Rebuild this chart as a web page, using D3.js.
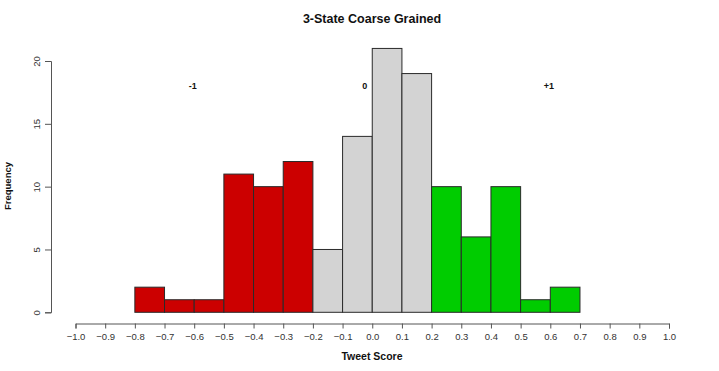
<!DOCTYPE html>
<html>
<head>
  <meta charset="utf-8">
  <title>3-State Coarse Grained</title>
  <script src="https://cdn.jsdelivr.net/npm/d3@7"></script>
  <style>
    body { margin: 0; background: #fff; }
    svg text { font-family: "Liberation Sans", Arial, sans-serif; }
  </style>
</head>
<body>
  <svg id="chart" width="719" height="371"></svg>

  <script>
    // histogram bins (lower edges), counts and category per bin
    var binStarts = [-0.8, -0.7, -0.6, -0.5, -0.4, -0.3, -0.2, -0.1, 0.0, 0.1, 0.2, 0.3, 0.4, 0.5, 0.6];
    var counts = [2, 1, 1, 11, 10, 12, 5, 14, 21, 19, 10, 6, 10, 1, 2];
    var classes = ['-1', '-1', '-1', '-1', '-1', '-1', '0', '0', '0', '0', '+1', '+1', '+1', '+1', '+1'];
    var binWidth = 0.1;

    var classNames = ['-1', '0', '+1'];
    var classColors = ['#cc0000', '#d3d3d3', '#00cc00'];
    var labelX = [-0.605, -0.025, 0.595];   // where the class labels sit on the score axis
    var labelY = 18;

    var xTicks = d3.range(-10, 11).map(d => d / 10);
    var yTicks = [0, 5, 10, 15, 20];

    var svg = d3.select('#chart');

    var x = d3.scaleLinear().domain([-1, 1]).range([75.5, 669]);
    var y = d3.scaleLinear().domain([0, 20]).range([312.3, 61]);
    var color = d3.scaleOrdinal().domain(classNames).range(classColors);

    var data = binStarts.map((b, i) => ({ x0: b, x1: b + binWidth, n: counts[i], c: classes[i] }));

    // bars
    svg.append('g')
      .selectAll('rect')
      .data(data)
      .join('rect')
      .attr('x', d => x(d.x0))
      .attr('width', d => x(d.x1) - x(d.x0))
      .attr('y', d => y(d.n))
      .attr('height', d => y(0) - y(d.n))
      .attr('fill', d => color(d.c))
      .attr('stroke', '#2a2a2a')
      .attr('stroke-width', 1);

    // x axis (R style, detached below the plot)
    var xAxis = svg.append('g')
      .attr('transform', 'translate(0,323.5)')
      .call(d3.axisBottom(x).tickValues(xTicks).tickFormat(d3.format('.1f')).tickSizeOuter(0).tickSize(5).tickPadding(5));
    xAxis.select('.domain').attr('stroke', '#555');
    xAxis.selectAll('.tick line').attr('stroke', '#555');
    xAxis.selectAll('.tick text').attr('fill', '#333').attr('font-size', 9.5);

    // y axis
    var yAxis = svg.append('g')
      .attr('transform', 'translate(51,0)')
      .call(d3.axisLeft(y).tickValues(yTicks).tickSizeOuter(0).tickSize(6).tickPadding(0));
    yAxis.select('.domain').attr('stroke', '#555');
    yAxis.selectAll('.tick line').attr('stroke', '#555');
    yAxis.selectAll('.tick text')
      .attr('fill', '#333')
      .attr('font-size', 9.5)
      .attr('text-anchor', 'middle')
      .attr('x', 0)
      .attr('dy', 0)
      .attr('transform', 'translate(-15,0) rotate(-90)')
      .attr('dominant-baseline', 'central');

    // class labels
    svg.append('g')
      .selectAll('text')
      .data(classNames)
      .join('text')
      .attr('x', (d, i) => x(labelX[i]))
      .attr('y', y(labelY))
      .attr('dy', '0.35em')
      .attr('text-anchor', 'middle')
      .attr('font-size', 9)
      .attr('font-weight', 'bold')
      .attr('fill', '#111')
      .text(d => d);

    // titles
    svg.append('text')
      .attr('x', 372)
      .attr('y', 23)
      .attr('text-anchor', 'middle')
      .attr('font-size', 12.5)
      .attr('font-weight', 'bold')
      .attr('fill', '#111')
      .text('3-State Coarse Grained');

    svg.append('text')
      .attr('x', 372)
      .attr('y', 360)
      .attr('text-anchor', 'middle')
      .attr('font-size', 10.5)
      .attr('font-weight', 'bold')
      .attr('fill', '#111')
      .text('Tweet Score');

    svg.append('text')
      .attr('transform', 'translate(11,186) rotate(-90)')
      .attr('text-anchor', 'middle')
      .attr('font-size', 9.5)
      .attr('font-weight', 'bold')
      .attr('fill', '#111')
      .text('Frequency');
  </script>
</body>
</html>
